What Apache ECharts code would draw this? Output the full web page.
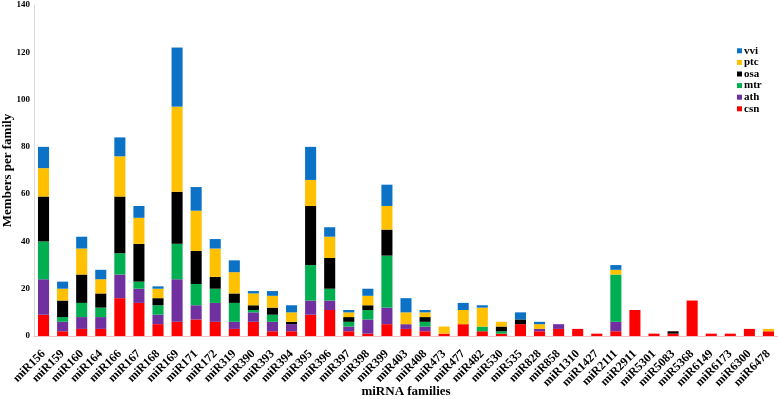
<!DOCTYPE html>
<html>
<head>
<meta charset="utf-8">
<script src="https://cdn.jsdelivr.net/npm/echarts@6/dist/echarts.min.js"></script>
<style>
  html, body { margin: 0; padding: 0; background: #fff; }
  #chart { width: 778px; height: 399px; }
</style>
</head>
<body>
<div id="chart"></div>
<script>
  // miRNA families on x axis
  var families = ['miR156', 'miR159', 'miR160', 'miR164', 'miR166', 'miR167', 'miR168', 'miR169', 'miR171', 'miR172',
    'miR319', 'miR390', 'miR393', 'miR394', 'miR395', 'miR396', 'miR397', 'miR398', 'miR399', 'miR403',
    'miR408', 'miR473', 'miR477', 'miR482', 'miR530', 'miR535', 'miR828', 'miR858', 'miR1310', 'miR1427',
    'miR2111', 'miR2911', 'miR5301', 'miR5083', 'miR5368', 'miR6149', 'miR6173', 'miR6300', 'miR6478']

  // members per family, by species (stack order bottom -> top)
  var csn = [9, 2, 3, 3, 16, 14, 5, 6, 7, 6, 3, 6, 2, 2, 9, 11, 2, 1, 5, 3, 2, 1, 5, 2, 1, 5, 2, 3, 3, 1, 2, 11, 1, 1, 15, 1, 1, 3, 2]
  var ath = [15, 4, 5, 5, 10, 6, 4, 18, 6, 8, 3, 4, 4, 3, 6, 4, 2, 6, 7, 2, 2, 0, 0, 0, 0, 0, 1, 2, 0, 0, 4, 0, 0, 0, 0, 0, 0, 0, 0]
  var mtr = [16, 2, 6, 4, 9, 3, 4, 15, 9, 6, 8, 1, 3, 0, 15, 5, 2, 4, 22, 0, 2, 0, 0, 2, 1, 0, 0, 0, 0, 0, 20, 0, 0, 0, 0, 0, 0, 0, 0]
  var osa = [19, 7, 12, 6, 24, 16, 3, 22, 14, 5, 4, 2, 3, 1, 25, 13, 2, 2, 11, 0, 2, 0, 0, 0, 2, 2, 0, 0, 0, 0, 0, 0, 0, 1, 0, 0, 0, 0, 0]
  var ptc = [12, 5, 11, 6, 17, 11, 4, 36, 17, 12, 9, 5, 5, 4, 11, 9, 2, 4, 10, 5, 2, 3, 6, 8, 2, 0, 2, 0, 0, 0, 2, 0, 0, 0, 0, 0, 0, 0, 1]
  var vvi = [9, 3, 5, 4, 8, 5, 1, 25, 10, 4, 5, 1, 2, 3, 14, 4, 1, 3, 9, 6, 1, 0, 3, 1, 0, 3, 1, 0, 0, 0, 2, 0, 0, 0, 0, 0, 0, 0, 0]

  var yTicks = [0, 20, 40, 60, 80, 100, 120, 140]

  var serif = '"Liberation Serif", "Times New Roman", serif'
  var seriesList = [
    { name: 'csn', data: csn, color: '#ff0000' },
    { name: 'ath', data: ath, color: '#7030a0' },
    { name: 'mtr', data: mtr, color: '#00b050' },
    { name: 'osa', data: osa, color: '#000000' },
    { name: 'ptc', data: ptc, color: '#ffc000' },
    { name: 'vvi', data: vvi, color: '#0b72c6' }
  ]

  var chart = echarts.init(document.getElementById('chart'))
  chart.setOption({
    animation: false,
    legend: {
      orient: 'vertical',
      left: 732,
      top: 40,
      itemWidth: 5,
      itemHeight: 5,
      itemGap: 0,
      icon: 'rect',
      data: ['vvi', 'ptc', 'osa', 'mtr', 'ath', 'csn'],
      textStyle: {
        fontFamily: serif,
        fontWeight: 'bold',
        fontSize: 11,
        lineHeight: 11.6,
        color: '#000',
        padding: [0, 0, 0, -3]
      }
    },
    grid: {
      left: 34,
      right: 0,
      top: 5,
      bottom: 63,
      containLabel: false,
      outerBoundsMode: 'none'
    },
    xAxis: {
      type: 'category',
      data: families,
      name: 'miRNA families',
      nameLocation: 'middle',
      nameGap: 49,
      nameMoveOverlap: false,
      nameTextStyle: {
        fontFamily: serif,
        fontWeight: 'bold',
        fontSize: 13,
        color: '#000'
      },
      axisLine: { lineStyle: { color: '#f2bcc4', width: 1 } },
      axisTick: { show: false },
      axisLabel: {
        rotate: 45,
        interval: 0,
        margin: 16,
        fontFamily: serif,
        fontWeight: 'bold',
        fontSize: 12,
        color: '#000'
      }
    },
    yAxis: {
      type: 'value',
      min: yTicks[0],
      max: yTicks[yTicks.length - 1],
      interval: 20,
      name: 'Members per family',
      nameLocation: 'middle',
      nameGap: 20,
      nameMoveOverlap: false,
      nameTextStyle: {
        fontFamily: serif,
        fontWeight: 'bold',
        fontSize: 13,
        color: '#000'
      },
      axisLine: { show: true, lineStyle: { color: '#d9d9d9' } },
      axisTick: { show: false },
      splitLine: { show: false },
      axisLabel: {
        margin: 4,
        fontFamily: serif,
        fontWeight: 'bold',
        fontSize: 9,
        color: '#000'
      }
    },
    series: seriesList.map(function (s) {
      return {
        name: s.name,
        type: 'bar',
        stack: 'total',
        barWidth: '58%',
        data: s.data,
        itemStyle: { color: s.color }
      }
    })
  })
</script>
</body>
</html>
